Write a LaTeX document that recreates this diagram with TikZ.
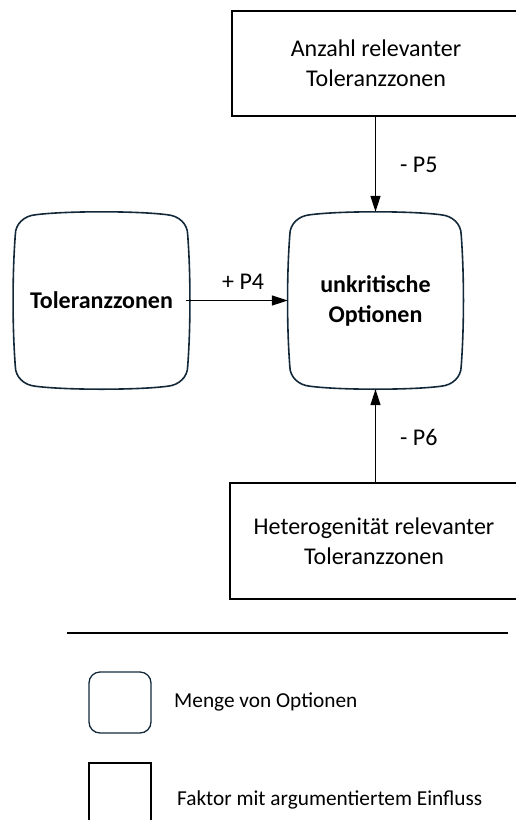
\documentclass[tikz,border=0pt]{standalone}
\usepackage{fontspec}
\setmainfont{Carlito}
\usetikzlibrary{arrows.meta,calc}
\definecolor{setline}{HTML}{13293A}
\tikzset{
  optset/.style={align=center, font=\fontsize{24}{30}\selectfont\bfseries, inner sep=0pt},
  optframe/.style={draw=setline, line width=1.6pt},
  factor/.style={draw=black, line width=1.3pt, align=center,
    font=\fontsize{24}{30}\selectfont, inner sep=0pt},
  infl/.style={line width=1.3pt, -{Triangle[length=16pt,width=10pt]}},
  lbl/.style={font=\fontsize{24}{28}\selectfont, inner sep=0pt, anchor=west},
  legtext/.style={font=\fontsize{21.3}{25}\selectfont, inner sep=0pt, anchor=west}
}
% soft-cornered frame with slightly bowed sides around a node
\newcommand\setframe[1]{%
  \draw[optframe] let \p1=(#1.north west), \p2=(#1.south east) in
    (\x1,\y1-20pt) .. controls (\x1,\y1-9pt) and (\x1+9pt,\y1-1pt) .. (\x1+20pt,\y1)
    .. controls (\x1+50pt,\y1+4pt) and (\x2-50pt,\y1+4pt) .. (\x2-20pt,\y1)
    .. controls (\x2-9pt,\y1-1pt) and (\x2,\y1-9pt) .. (\x2,\y1-20pt)
    .. controls (\x2+3pt,\y1-60pt) and (\x2+3pt,\y2+60pt) .. (\x2,\y2+20pt)
    .. controls (\x2,\y2+9pt) and (\x2-9pt,\y2+1pt) .. (\x2-20pt,\y2)
    .. controls (\x2-50pt,\y2-4pt) and (\x1+50pt,\y2-4pt) .. (\x1+20pt,\y2)
    .. controls (\x1+9pt,\y2+1pt) and (\x1,\y2+9pt) .. (\x1,\y2+20pt)
    .. controls (\x1-3pt,\y2+60pt) and (\x1-3pt,\y1-60pt) .. cycle;}
\begin{document}
\begin{tikzpicture}[x=1pt,y=-1pt]
\useasboundingbox (0,0) rectangle (516,820);

% factor boxes
\node[factor, minimum width=288pt, minimum height=105pt] (anzahl) at (376,63.5)
  {Anzahl relevanter\\Toleranzzonen};
\node[factor, minimum width=288pt, minimum height=116pt] (hetero) at (374,541)
  {Heterogenität relevanter\\Toleranzzonen};

% option sets
\node[optset, minimum width=172pt, minimum height=171pt] (tol) at (101.5,300.5)
  {Toleranzzonen};
\node[optset, minimum width=171pt, minimum height=171pt] (unkrit) at (375.5,300.5)
  {unkritische\\Optionen};
\setframe{tol}
\setframe{unkrit}

% influences
\draw[infl] ([xshift=-2pt]tol.east) -- ([xshift=-2pt]unkrit.west);
\draw[infl] (unkrit.north |- anzahl.south) -- ([yshift=3pt]unkrit.north);
\draw[infl] (unkrit.south |- hetero.north) -- ([yshift=-3pt]unkrit.south);

\node[lbl] (p4) at (222,281.5) {+ P4};
\node[lbl] (p5) at (400,165) {- P5};
\node[lbl] (p6) at (400,437.5) {- P6};

% legend
\coordinate (sepL) at (67,633);
\coordinate (sepR) at (508,633);
\draw[line width=1.4pt] (sepL) -- (sepR);

\node[draw=setline, line width=1.3pt, rounded corners=11pt,
  minimum width=62pt, minimum height=61pt, inner sep=0pt] (legset) at (120,702.5) {};
\node[legtext] (legsettext) at (174,702) {Menge von Optionen};

\node[draw=black, line width=1.3pt, minimum width=62pt, minimum height=70pt,
  inner sep=0pt] (legfac) at (120,798) {};
\node[legtext] (legfactext) at (177,800) {Faktor mit argumentiertem Einfluss};
\end{tikzpicture}
\end{document}
